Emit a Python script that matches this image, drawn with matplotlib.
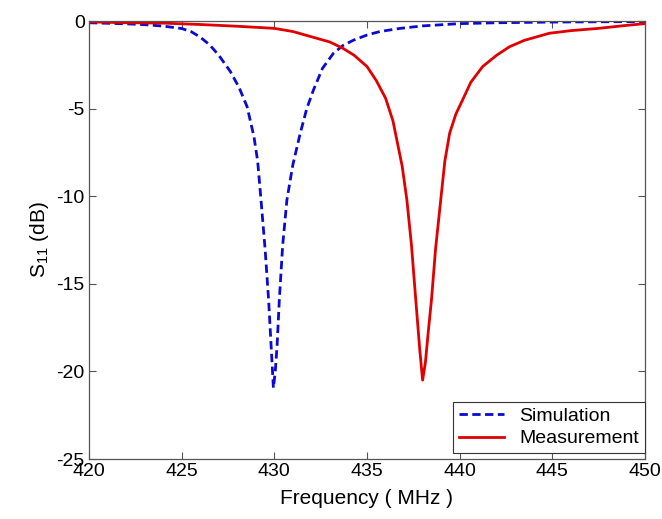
import numpy as np
import matplotlib.pyplot as plt

plt.rcParams['font.family'] = ['Liberation Sans', 'DejaVu Sans']
plt.rcParams['mathtext.fontset'] = 'custom'
plt.rcParams['mathtext.rm'] = 'Liberation Sans'
plt.rcParams['axes.unicode_minus'] = False

# simulation
sim_freq = [420.0, 421.0, 422.0, 423.0, 424.0, 425.0, 425.5, 426.0, 426.5, 427.0,
            427.63, 428.1, 428.53, 428.9, 429.1, 429.28, 429.5, 429.69, 429.85, 429.95,
            430.05, 430.15, 430.27, 430.45, 430.68, 431.0, 431.4, 431.75, 432.11, 432.6,
            433.19, 433.7, 434.26, 435.0, 435.7, 436.8, 438.0, 440.0, 442.0, 445.0, 450.0]
sim_db = [-0.1, -0.13, -0.16, -0.21, -0.29, -0.43, -0.6, -0.92, -1.35, -1.95,
          -2.89, -3.8, -4.89, -6.6, -8.0, -10.2, -13.0, -15.9, -19.0, -20.95,
          -20.0, -18.5, -15.9, -12.8, -10.2, -8.2, -6.4, -5.0, -3.94, -2.7,
          -1.84, -1.4, -1.1, -0.8, -0.6, -0.42, -0.28, -0.15, -0.1, -0.06, -0.03]

# measurement
meas_freq = [420.0, 422.0, 424.0, 426.0, 428.0, 430.0, 431.0, 432.0, 433.0, 433.7,
             434.3, 435.0, 435.5, 436.0, 436.4, 436.9, 437.15, 437.4, 437.63, 437.85,
             438.0, 438.15, 438.3, 438.48, 438.7, 438.98, 439.2, 439.46, 439.8, 440.16,
             440.6, 441.24, 442.0, 442.69, 443.5, 444.84, 446.0, 447.5, 449.0, 450.0]
meas_db = [-0.05, -0.1, -0.12, -0.2, -0.3, -0.42, -0.6, -0.9, -1.2, -1.56,
           -1.95, -2.6, -3.4, -4.4, -5.7, -8.3, -10.2, -12.8, -15.9, -18.8,
           -20.5, -19.5, -17.8, -15.9, -13.0, -10.2, -8.0, -6.4, -5.3, -4.5,
           -3.5, -2.6, -1.95, -1.47, -1.1, -0.7, -0.55, -0.42, -0.25, -0.15]

fig = plt.figure(figsize=(6.62, 5.19), dpi=100)
ax = fig.add_axes([89 / 662, 1 - 459 / 519, (645 - 89) / 662, (459 - 21) / 519])

ax.plot(sim_freq, sim_db, color='#0a0ad2', lw=2, linestyle=(0, (3, 1.6)), label='Simulation')
ax.plot(meas_freq, meas_db, color='#e00000', lw=2, label='Measurement')

ax.set_xlim(420, 450)
ax.set_ylim(-25, 0)
ax.set_xticks(np.arange(420, 451, 5))
ax.set_yticks(np.arange(-25, 1, 5))
ax.tick_params(direction='in', top=True, right=True, length=5, width=0.8,
               labelsize=14, color='#555555', pad=3)
for s in ax.spines.values():
    s.set_color('#555555')
    s.set_linewidth(0.9)

ax.set_xlabel('Frequency ( MHz )', fontsize=15, labelpad=6)
ax.set_ylabel('$\\mathregular{S_{11}}$ (dB)', fontsize=15, labelpad=4)

leg = ax.legend(loc='lower right', bbox_to_anchor=(1.0, 0.013), fontsize=14,
                fancybox=False, framealpha=1, edgecolor='#333333',
                handlelength=2.3, borderaxespad=0, labelspacing=0.25,
                borderpad=0.3)
leg.get_frame().set_linewidth(0.8)

fig.savefig('out.png', dpi=100)
